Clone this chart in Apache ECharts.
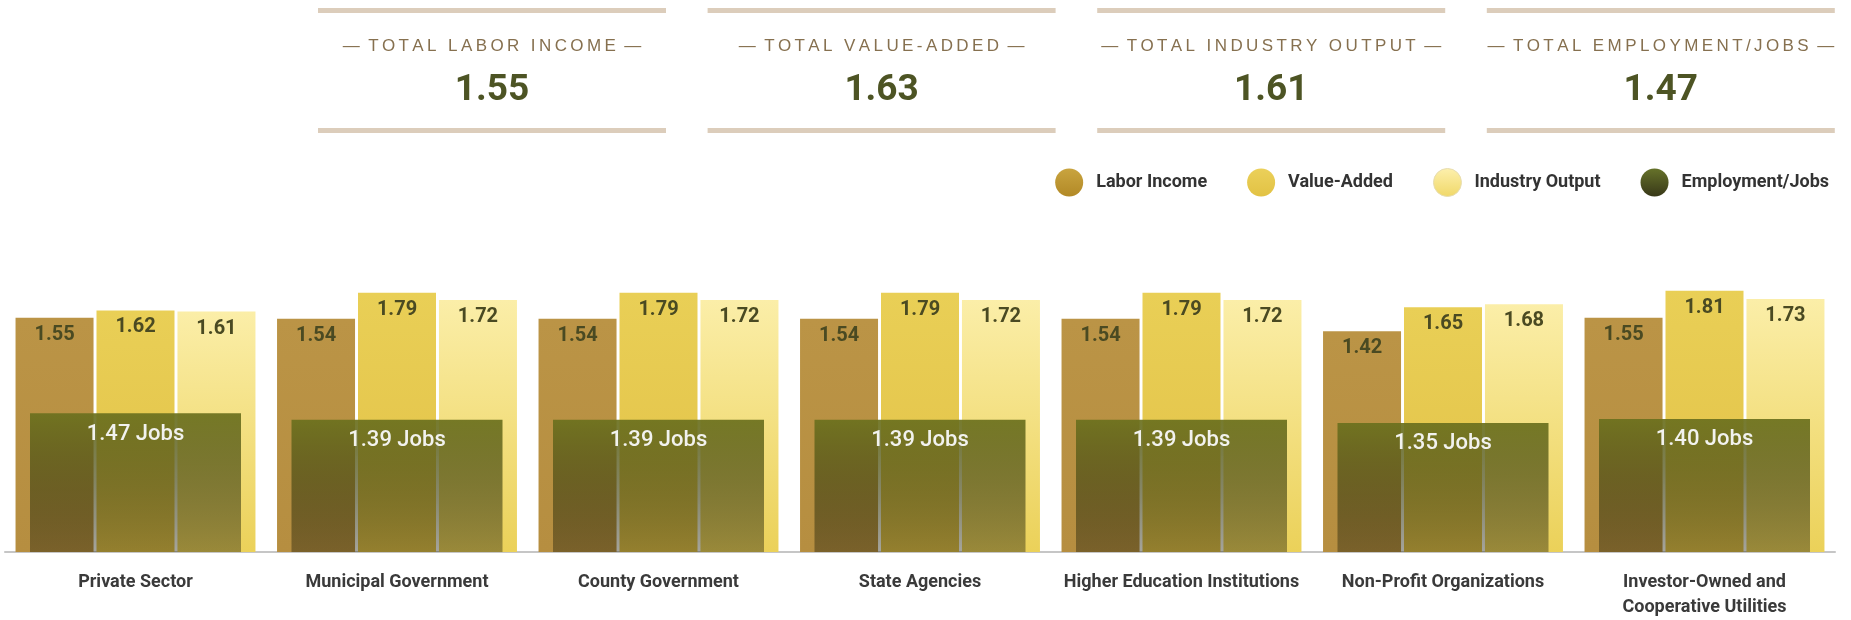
<!DOCTYPE html>
<html>
<head>
<meta charset="utf-8">
<title>Economic multipliers by sector</title>
<script src="https://cdn.jsdelivr.net/npm/echarts@6/dist/echarts.min.js"></script>
<style>
  html, body { margin: 0; padding: 0; background: #fff; }
  #chart { width: 1851px; height: 620px; }
</style>
</head>
<body>
<div id="chart"></div>
<script>
const categories = [
  'Private Sector',
  'Municipal Government',
  'County Government',
  'State Agencies',
  'Higher Education Institutions',
  'Non-Profit Organizations',
  'Investor-Owned and\nCooperative Utilities'
];
const laborIncome = [1.55, 1.54, 1.54, 1.54, 1.54, 1.42, 1.55];
const valueAdded = [1.62, 1.79, 1.79, 1.79, 1.79, 1.65, 1.81];
const industryOutput = [1.61, 1.72, 1.72, 1.72, 1.72, 1.68, 1.73];
const jobs = [1.47, 1.39, 1.39, 1.39, 1.39, 1.35, 1.40];

const totalNames = ['TOTAL LABOR INCOME', 'TOTAL VALUE-ADDED', 'TOTAL INDUSTRY OUTPUT', 'TOTAL EMPLOYMENT/JOBS'];
const totalValues = [1.55, 1.63, 1.61, 1.47];

const COND = "Roboto, 'Liberation Sans Narrow', sans-serif";

const vgrad = (top, bottom) => new echarts.graphic.LinearGradient(0, 0, 0, 1, [
  { offset: 0, color: top },
  { offset: 1, color: bottom }
]);

// letter-spaced caps for the summary cards
const track = (s) => s.split('').join('\u2009');

const cards = [];
totalNames.forEach((name, i) => {
  const x = 318 + 389.6 * i;
  const cx = x + 174;
  cards.push(
    { type: 'rect', shape: { x: x, y: 8, width: 348, height: 5 }, style: { fill: '#dccdbb' } },
    { type: 'rect', shape: { x: x, y: 128, width: 348, height: 5 }, style: { fill: '#dccdbb' } },
    {
      type: 'text',
      style: {
        text: '\u2014\u2002' + track(name) + '\u2002\u2014',
        x: cx, y: 46,
        textAlign: 'center', textVerticalAlign: 'middle',
        font: "17px 'Liberation Sans', Arial, sans-serif",
        fill: '#86704f'
      }
    },
    {
      type: 'text',
      style: {
        text: totalValues[i].toFixed(2),
        x: cx, y: 91,
        textAlign: 'center', textVerticalAlign: 'middle',
        font: 'bold 37px ' + COND,
        fill: '#4d5424'
      }
    }
  );
});

const barLabel = {
  show: true,
  position: 'insideTop',
  distance: 7,
  fontFamily: COND,
  fontSize: 20,
  fontWeight: 'bold',
  color: '#4a4a22',
  formatter: (p) => p.value.toFixed(2)
};

const chart = echarts.init(document.getElementById('chart'));

chart.setOption({
  animation: false,
  graphic: cards,
  legend: {
    right: 17,
    top: 163,
    icon: 'circle',
    itemWidth: 28,
    itemHeight: 28,
    itemGap: 40,
    textStyle: {
      fontFamily: COND,
      fontSize: 18,
      fontWeight: 'bold',
      color: '#333',
      padding: [0, 0, 0, 8]
    },
    data: [
      { name: 'Labor Income', itemStyle: { color: vgrad('#c9a43f', '#b28926') } },
      { name: 'Value-Added', itemStyle: { color: vgrad('#ebd05a', '#e2c244') } },
      { name: 'Industry Output', itemStyle: { color: vgrad('#fdf0ad', '#f0d868'), borderColor: '#e6dcb0', borderWidth: 1 } },
      { name: 'Employment/Jobs', itemStyle: { color: vgrad('#66722a', '#383818') } }
    ]
  },
  grid: { left: 4.75, right: 15.75, top: 271, bottom: 65 },
  xAxis: [
    {
      type: 'category',
      data: categories,
      axisTick: { show: false },
      axisLine: { show: true, onZero: false, lineStyle: { color: '#b4b4b4', width: 1.5 } },
      axisLabel: {
        interval: 0,
        margin: 18,
        fontFamily: COND,
        fontSize: 18,
        fontWeight: 'bold',
        lineHeight: 25,
        color: '#3a3a3a'
      }
    },
    {
      type: 'category',
      data: categories,
      show: false
    }
  ],
  yAxis: [
    { type: 'value', min: -0.705, max: 2.0, startValue: -0.705, show: false },
    { type: 'value', min: -0.26, max: 3.246, startValue: -0.26, show: false }
  ],
  series: [
    {
      name: 'Labor Income',
      type: 'bar',
      data: laborIncome,
      barWidth: 78,
      barGap: '3.8%',
      itemStyle: { color: vgrad('#bb9446', '#b68e40') },
      label: barLabel
    },
    {
      name: 'Value-Added',
      type: 'bar',
      data: valueAdded,
      barWidth: 78,
      barGap: '3.8%',
      itemStyle: { color: vgrad('#e9cf56', '#e2c147') },
      label: barLabel
    },
    {
      name: 'Industry Output',
      type: 'bar',
      data: industryOutput,
      barWidth: 78,
      barGap: '3.8%',
      itemStyle: { color: vgrad('#fbeea8', '#ebd159') },
      label: barLabel
    },
    {
      name: 'Employment/Jobs',
      type: 'bar',
      xAxisIndex: 1,
      yAxisIndex: 1,
      data: jobs,
      barWidth: 211,
      z: 5,
      itemStyle: { color: vgrad('rgba(108,113,30,0.93)', 'rgba(32,30,10,0.4)') },
      label: {
        show: true,
        position: 'insideTop',
        distance: 10,
        fontFamily: COND,
        fontSize: 22,
        fontWeight: 500,
        color: '#f2f2ee',
        formatter: (p) => p.value.toFixed(2) + ' Jobs'
      }
    }
  ]
});
</script>
</body>
</html>
